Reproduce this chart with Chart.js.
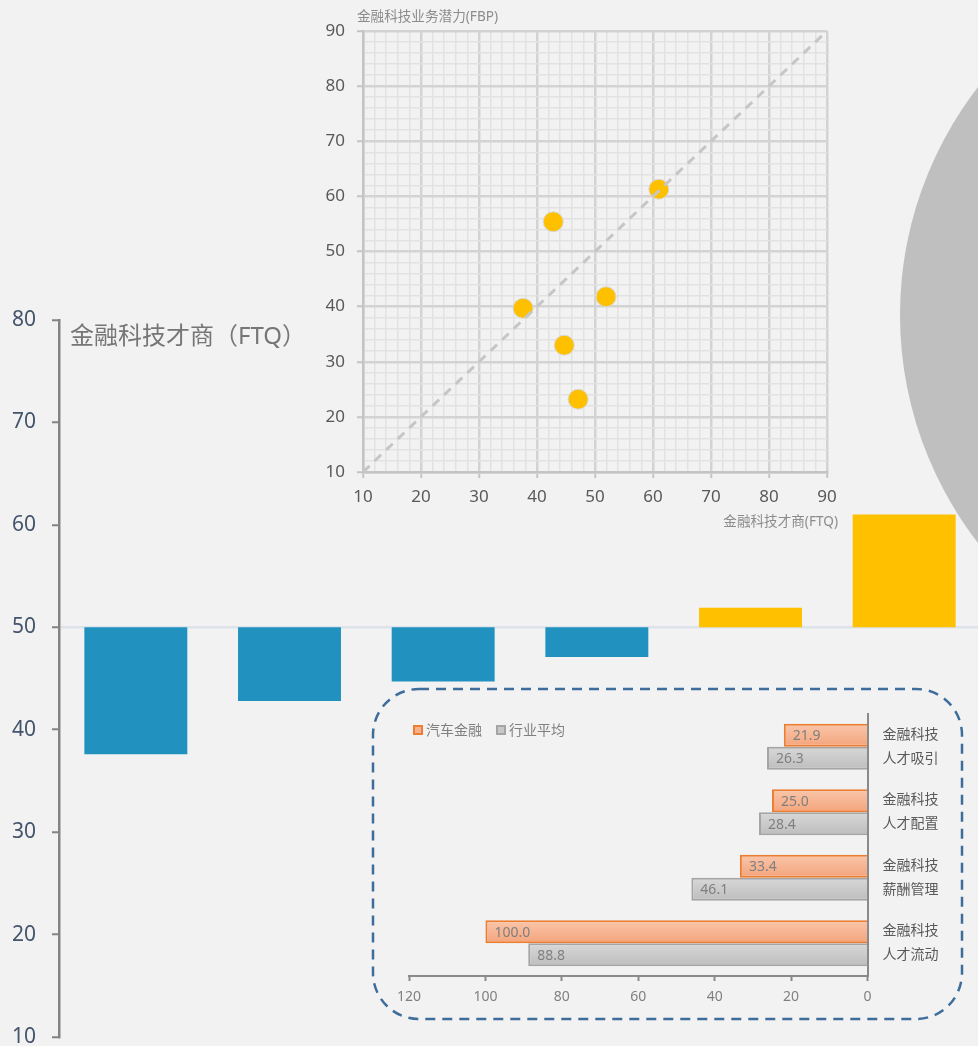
<!DOCTYPE html>
<html>
<head>
<meta charset="utf-8">
<script src="https://cdn.jsdelivr.net/npm/chart.js@4.4.1/dist/chart.umd.min.js"></script>
<style>
html,body{margin:0;padding:0;background:#f2f2f2;}
body{width:978px;height:1046px;overflow:hidden;position:relative;font-family:'Noto Sans','Noto Sans CJK SC',sans-serif;}
.abs{position:absolute;}
#circle{left:900px;top:-57px;width:744px;height:744px;border-radius:50%;background:#bfbfbf;}
#mainTitle{left:70px;top:320px;font-size:24px;line-height:30px;color:#767676;white-space:nowrap;}
.stitle{font-size:13.6px;line-height:16px;color:#8c8c8c;white-space:nowrap;}
#fbpTitle{left:357px;top:8px;}
#ftqTitle{right:140px;top:513px;}
#legend{left:413px;top:721px;font-size:14px;line-height:18px;color:#808080;white-space:nowrap;display:flex;align-items:center;}
.sw{display:inline-block;width:6px;height:6px;border:2px solid;margin-right:3px;}
.item{display:flex;align-items:center;margin-right:14px;}
</style>
</head>
<body>
<div id="circle" class="abs"></div>
<canvas id="main" class="abs" width="981" height="1046" style="left:0;top:0;"></canvas>
<div id="mainTitle" class="abs">金融科技才商（FTQ）</div>
<canvas id="scatter" class="abs" width="560" height="540" style="left:300px;top:0;"></canvas>
<div id="fbpTitle" class="abs stitle">金融科技业务潜力(FBP)</div>
<div id="ftqTitle" class="abs stitle">金融科技才商(FTQ)</div>
<svg class="abs" style="left:0;top:0;" width="978" height="1046">
  <rect x="373" y="689" width="589" height="330" rx="46" ry="46" fill="none" stroke="#3e6d9c" stroke-width="2.5" stroke-dasharray="10 7"/>
</svg>
<canvas id="hbar" class="abs" width="591" height="332" style="left:372px;top:688px;"></canvas>
<div id="legend" class="abs"></div>
<script>
// ---------------- data ----------------
const entities = ['1', '2', '3', '4', '5', '6'];
const ftqValues = [37.6, 42.8, 44.7, 47.1, 51.9, 61.0];
const fbpValues = [39.7, 55.4, 33.0, 23.2, 41.8, 61.3];
const ftqBaseline = 50;
const mainTicks = [10, 20, 30, 40, 50, 60, 70, 80];
const scatterRange = [10, 90];
const hbarCategories = [['金融科技', '人才吸引'], ['金融科技', '人才配置'], ['金融科技', '薪酬管理'], ['金融科技', '人才流动']];
const carFinance = [21.9, 25.0, 33.4, 100.0];
const industryAvg = [26.3, 28.4, 46.1, 88.8];
const seriesNames = ['汽车金融', '行业平均'];
const hbarTicks = [0, 20, 40, 60, 80, 100, 120];

const FONT = "'Noto Sans','Noto Sans CJK SC',sans-serif";
Chart.defaults.font.family = FONT;

// ---------------- main bar chart ----------------
new Chart(document.getElementById('main'), {
  type: 'bar',
  data: {
    labels: entities,
    datasets: [{
      data: ftqValues.map(v => [ftqBaseline, v]),
      backgroundColor: ftqValues.map(v => v < ftqBaseline ? '#2192c0' : '#ffc000'),
      borderWidth: 0,
      barPercentage: 0.67,
      categoryPercentage: 1
    }]
  },
  options: {
    responsive: false, animation: false, events: [],
    layout: { padding: { top: 320, bottom: 9, left: 0, right: 0 } },
    plugins: { legend: { display: false }, tooltip: { enabled: false } },
    scales: {
      x: { display: false },
      y: {
        min: mainTicks[0], max: mainTicks[mainTicks.length - 1],
        ticks: { stepSize: 10, color: '#44546a', font: { size: 21 }, padding: 16 },
        grid: {
          color: c => (c.tick && c.tick.value === ftqBaseline) ? '#dde3ea' : 'rgba(0,0,0,0)',
          lineWidth: 2.5, tickColor: '#838383', tickLength: 7, tickWidth: 2
        },
        border: { color: '#838383', width: 2.5 },
        afterFit: s => { s.width = 59; s.paddingTop = 0; s.paddingBottom = 0; }
      }
    }
  }
});

// ---------------- scatter inset ----------------
const isMajor = c => c.tick && c.tick.value % 10 === 0;
const scGrid = {
  color: c => isMajor(c) ? '#d3d3d3' : '#e2e2e2',
  lineWidth: c => isMajor(c) ? 2.5 : 1.5,
  tickColor: c => isMajor(c) ? '#c4c4c4' : 'rgba(0,0,0,0)',
  tickLength: 6, tickWidth: 2
};
new Chart(document.getElementById('scatter'), {
  type: 'scatter',
  data: {
    datasets: [
      {
        type: 'line',
        data: [{ x: scatterRange[0], y: scatterRange[0] }, { x: scatterRange[1], y: scatterRange[1] }],
        borderColor: '#c6c6c6', borderWidth: 3, borderDash: [9, 7],
        pointRadius: 0, fill: false, order: 0
      },
      {
        data: ftqValues.map((x, i) => ({ x: x, y: fbpValues[i] })),
        backgroundColor: '#ffc000', borderColor: '#d8d8d8', borderWidth: 1,
        pointRadius: 10, order: 1
      }
    ]
  },
  options: {
    responsive: false, animation: false, events: [],
    layout: { padding: { top: 31, right: 33, left: 0, bottom: 0 } },
    plugins: { legend: { display: false }, tooltip: { enabled: false } },
    scales: {
      x: {
        type: 'linear', min: scatterRange[0], max: scatterRange[1],
        ticks: { stepSize: 2, maxTicksLimit: 100, autoSkip: false, maxRotation: 0,
          callback: v => v % 10 === 0 ? v : '', color: '#595959', font: { size: 17 }, padding: 9 },
        grid: scGrid,
        border: { color: '#c4c4c4', width: 2.5 },
        afterFit: s => { s.height = 68; s.paddingLeft = 0; s.paddingRight = 0; }
      },
      y: {
        type: 'linear', min: scatterRange[0], max: scatterRange[1],
        ticks: { stepSize: 2, maxTicksLimit: 100, autoSkip: false,
          callback: v => v % 10 === 0 ? v : '', color: '#595959', font: { size: 17 }, padding: 12 },
        grid: scGrid,
        border: { color: '#c4c4c4', width: 2.5 },
        afterFit: s => { s.width = 63; s.paddingTop = 0; s.paddingBottom = 0; }
      }
    }
  }
});

// ---------------- horizontal bar inset ----------------
function barGrad(c, upper, topCol, botCol) {
  const chart = c.chart, ys = chart.scales.y;
  if (!chart.chartArea || !ys || c.dataIndex === undefined || !ys.ticks || !ys.ticks.length) return botCol;
  const center = ys.getPixelForValue(c.dataIndex);
  const band = (ys.bottom - ys.top) / ys.ticks.length * 0.7 / 2;
  const y0 = upper ? center - band : center;
  const g = chart.ctx.createLinearGradient(0, y0, 0, y0 + band);
  g.addColorStop(0, topCol);
  g.addColorStop(1, botCol);
  return g;
}
const valueLabels = {
  id: 'valueLabels',
  afterDatasetsDraw(chart) {
    const ctx = chart.ctx;
    ctx.save();
    ctx.font = '14px ' + FONT;
    ctx.fillStyle = '#7f7f7f';
    ctx.textAlign = 'left';
    ctx.textBaseline = 'middle';
    chart.data.datasets.forEach((ds, di) => {
      chart.getDatasetMeta(di).data.forEach((el, i) => {
        ctx.fillText(ds.data[i].toFixed(1), el.x + 9, el.y + 1);
      });
    });
    ctx.restore();
  }
};
new Chart(document.getElementById('hbar'), {
  type: 'bar',
  data: {
    labels: hbarCategories,
    datasets: [
      { label: seriesNames[0], data: carFinance,
        backgroundColor: c => barGrad(c, true, '#f9c6aa', '#f4a47c'),
        borderColor: '#ed7d31', borderWidth: 2 },
      { label: seriesNames[1], data: industryAvg,
        backgroundColor: c => barGrad(c, false, '#d8d8d8', '#bdbdbd'),
        borderColor: '#a5a5a5', borderWidth: 2 }
    ]
  },
  options: {
    indexAxis: 'y', responsive: false, animation: false, events: [],
    datasets: { bar: { categoryPercentage: 0.7, barPercentage: 1 } },
    layout: { padding: { left: 37, top: 26, right: 0, bottom: 0 } },
    plugins: { legend: { display: false }, tooltip: { enabled: false } },
    scales: {
      x: {
        type: 'linear', reverse: true, min: hbarTicks[0], max: hbarTicks[hbarTicks.length - 1],
        ticks: { stepSize: 20, color: '#808080', font: { size: 14 }, padding: 8, maxRotation: 0 },
        grid: { drawOnChartArea: false, tickLength: 5, tickColor: '#8a8a8a', tickWidth: 2 },
        border: { color: '#8a8a8a', width: 2 },
        afterFit: s => { s.height = 44; s.paddingLeft = 0; s.paddingRight = 0; }
      },
      y: {
        position: 'right',
        ticks: { color: '#595959', font: { size: 14, lineHeight: 1.7 }, padding: 15 },
        grid: { drawOnChartArea: false, drawTicks: false },
        border: { color: '#8a8a8a', width: 2 },
        afterFit: s => { s.width = 95.5; s.paddingTop = 0; s.paddingBottom = 0; }
      }
    }
  },
  plugins: [valueLabels]
});

// legend for inset
const legendColors = [['#f7b18e', '#ed7d31'], ['#c8c8c8', '#a5a5a5']];
const legendEl = document.getElementById('legend');
seriesNames.forEach((n, i) => {
  const it = document.createElement('span');
  it.className = 'item';
  const sw = document.createElement('span');
  sw.className = 'sw';
  sw.style.background = legendColors[i][0];
  sw.style.borderColor = legendColors[i][1];
  it.appendChild(sw);
  it.appendChild(document.createTextNode(n));
  legendEl.appendChild(it);
});
</script>
</body>
</html>
